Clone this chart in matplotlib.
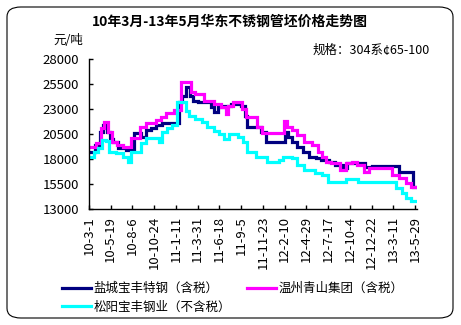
import matplotlib
matplotlib.use('Agg')
import matplotlib.pyplot as plt
import matplotlib.dates as mdates
from matplotlib.patches import FancyBboxPatch
from matplotlib.ticker import FuncFormatter
import pandas as pd

plt.rcParams['font.family'] = ['Noto Sans CJK SC', 'DejaVu Sans']

# weekly quotes, only the weeks where the price changed (yuan/ton)
yancheng_dates = ['2010-03-01', '2010-03-23', '2010-04-10', '2010-04-21', '2010-05-05', '2010-05-16',
                  '2010-05-27', '2010-06-14', '2010-07-13', '2010-08-12', '2010-09-06', '2010-09-24',
                  '2010-10-12', '2010-10-31', '2010-11-21', '2011-01-22', '2011-02-02', '2011-02-17',
                  '2011-03-03', '2011-03-14', '2011-04-01', '2011-05-18', '2011-05-29', '2011-06-13',
                  '2011-07-05', '2011-07-30', '2011-09-04', '2011-09-19', '2011-09-26', '2011-11-16',
                  '2011-12-04', '2012-02-11', '2012-02-22', '2012-03-08', '2012-03-26', '2012-04-17',
                  '2012-05-09', '2012-06-03', '2012-06-21', '2012-07-20', '2012-08-11', '2012-09-09',
                  '2012-09-24', '2012-11-28', '2012-12-24', '2013-04-01', '2013-05-22', '2013-06-05']
yancheng = [18700, 19400, 20700, 21400, 20700, 20000,
            19700, 19150, 18950, 20600, 20250, 20950,
            21150, 21450, 21650, 23700, 24300, 25200,
            24300, 23800, 23700, 23200, 22700, 23200,
            23300, 23500, 23300, 22300, 21200, 20750,
            19750, 20750, 20250, 19750, 19250, 18750,
            18250, 18100, 17950, 17750, 17450, 17150,
            17650, 17200, 17350, 16750, 15200, 15200]

wenzhou_dates = ['2010-03-01', '2010-03-26', '2010-04-14', '2010-04-25', '2010-05-09', '2010-05-24',
                 '2010-06-11', '2010-07-03', '2010-08-01', '2010-09-02', '2010-09-24', '2010-10-31',
                 '2010-11-18', '2010-12-06', '2011-01-04', '2011-01-29', '2011-03-07', '2011-03-21',
                 '2011-04-23', '2011-05-29', '2011-06-24', '2011-07-12', '2011-07-19', '2011-08-06',
                 '2011-09-08', '2011-09-23', '2011-11-02', '2011-11-20', '2012-02-08', '2012-02-19',
                 '2012-03-08', '2012-03-26', '2012-04-21', '2012-05-20', '2012-06-10', '2012-06-25',
                 '2012-07-09', '2012-07-28', '2012-08-29', '2012-09-20', '2012-10-12', '2012-10-30',
                 '2012-11-25', '2012-12-13', '2013-03-06', '2013-04-01', '2013-04-26', '2013-05-14',
                 '2013-06-05']
wenzhou = [19250, 19650, 21150, 21700, 20750, 19750,
           19450, 19250, 20150, 21250, 21650, 21950,
           22250, 22650, 22900, 25700, 24700, 24500,
           23850, 23500, 23200, 22500, 23300, 23700,
           23000, 22200, 21200, 20650, 21800, 21250,
           20950, 20450, 19750, 19450, 18750, 18250,
           17750, 17600, 16950, 17650, 17750, 17450,
           16750, 17100, 16450, 16100, 15600, 15200,
           15200]

songyang_dates = ['2010-03-01', '2010-03-19', '2010-04-03', '2010-04-17', '2010-05-02', '2010-05-13',
                  '2010-06-07', '2010-07-03', '2010-07-21', '2010-08-01', '2010-09-06', '2010-09-24',
                  '2010-11-10', '2010-11-21', '2010-12-10', '2010-12-28', '2011-01-15', '2011-02-17',
                  '2011-02-28', '2011-03-21', '2011-04-16', '2011-05-04', '2011-05-29', '2011-06-17',
                  '2011-07-05', '2011-07-23', '2011-08-25', '2011-09-12', '2011-09-26', '2011-10-29',
                  '2011-12-08', '2012-01-21', '2012-02-04', '2012-03-08', '2012-03-26', '2012-04-21',
                  '2012-05-31', '2012-06-25', '2012-07-17', '2012-09-20', '2012-11-03', '2013-03-21',
                  '2013-04-12', '2013-04-26', '2013-05-14', '2013-06-05']
songyang = [18200, 18700, 19150, 19950, 19800, 18750,
            18650, 18250, 17750, 18750, 19650, 20150,
            19750, 20750, 21150, 21450, 23700, 22800,
            22300, 22000, 21700, 21200, 20800, 20500,
            20000, 20500, 20200, 19750, 18750, 18250,
            17750, 17950, 18250, 18150, 17450, 16950,
            16650, 16400, 15750, 16000, 15750, 15150,
            14600, 14100, 13800, 13800]

series_names = ['盐城宝丰特钢（含税）', '温州青山集团（含税）', '松阳宝丰钢业（不含税）']
series_colors = ['#000080', '#ff00ff', '#00ffff']

y_ticks = [13000, 15500, 18000, 20500, 23000, 25500, 28000]
tick_start = pd.Timestamp('2010-03-01')
tick_dates = pd.date_range(tick_start, periods=16, freq='79D')

fig = plt.figure(figsize=(4.61, 3.25), dpi=100)

# rounded frame around the whole chart
frame = FancyBboxPatch((7 / 461, 7 / 325), 446 / 461, 311 / 325,
                       boxstyle='round,pad=0,rounding_size=0.03',
                       transform=fig.transFigure, facecolor='white',
                       edgecolor='black', linewidth=0.8, zorder=-1)
fig.patches.append(frame)

ax = fig.add_axes([89 / 461, 1 - 209 / 325, 328 / 461, 150 / 325], zorder=2)
ax.set_facecolor('none')

lines = []
for dates, vals, name, col in zip([yancheng_dates, wenzhou_dates, songyang_dates],
                                  [yancheng, wenzhou, songyang],
                                  series_names, series_colors):
    ln, = ax.plot(pd.to_datetime(dates), vals, color=col, linewidth=2.3,
                  drawstyle='steps-post', label=name, solid_joinstyle='miter')
    lines.append(ln)

ax.set_ylim(13000, 28000)
ax.set_yticks(y_ticks)
ax.set_xlim(tick_start, pd.Timestamp('2013-06-05'))
ax.set_xticks(tick_dates)
ax.xaxis.set_major_formatter(FuncFormatter(
    lambda v, p: (lambda d: f"{d.year % 100}-{d.month}-{d.day}")(mdates.num2date(v))))

for s in ['top', 'right']:
    ax.spines[s].set_visible(False)
for s in ['left', 'bottom']:
    ax.spines[s].set_linewidth(1.0)
ax.tick_params(axis='both', direction='in', length=3, width=1, labelsize=9.5)
ax.tick_params(axis='y', pad=7)
ax.tick_params(axis='x', labelrotation=90, pad=5)

fig.text(230 / 461, 1 - 22 / 325, '10年3月-13年5月华东不锈钢管坯价格走势图',
         ha='center', va='center', fontsize=10, fontweight='bold')
fig.text(68 / 461, 1 - 40 / 325, '元/吨', ha='center', va='center', fontsize=9)
fig.text(430 / 461, 1 - 50 / 325, '规格：304系¢65-100', ha='right', va='center', fontsize=9)

# row-wise order for the two-column legend
fig.legend(handles=[lines[0], lines[2], lines[1]], loc='upper left',
           bbox_to_anchor=(57 / 461, 1 - 277 / 325),
           ncol=2, frameon=False, fontsize=9, handlelength=2.3, handletextpad=0.2,
           columnspacing=1.3, labelspacing=0.45, borderaxespad=0)

fig.savefig('out.png', dpi=100)
